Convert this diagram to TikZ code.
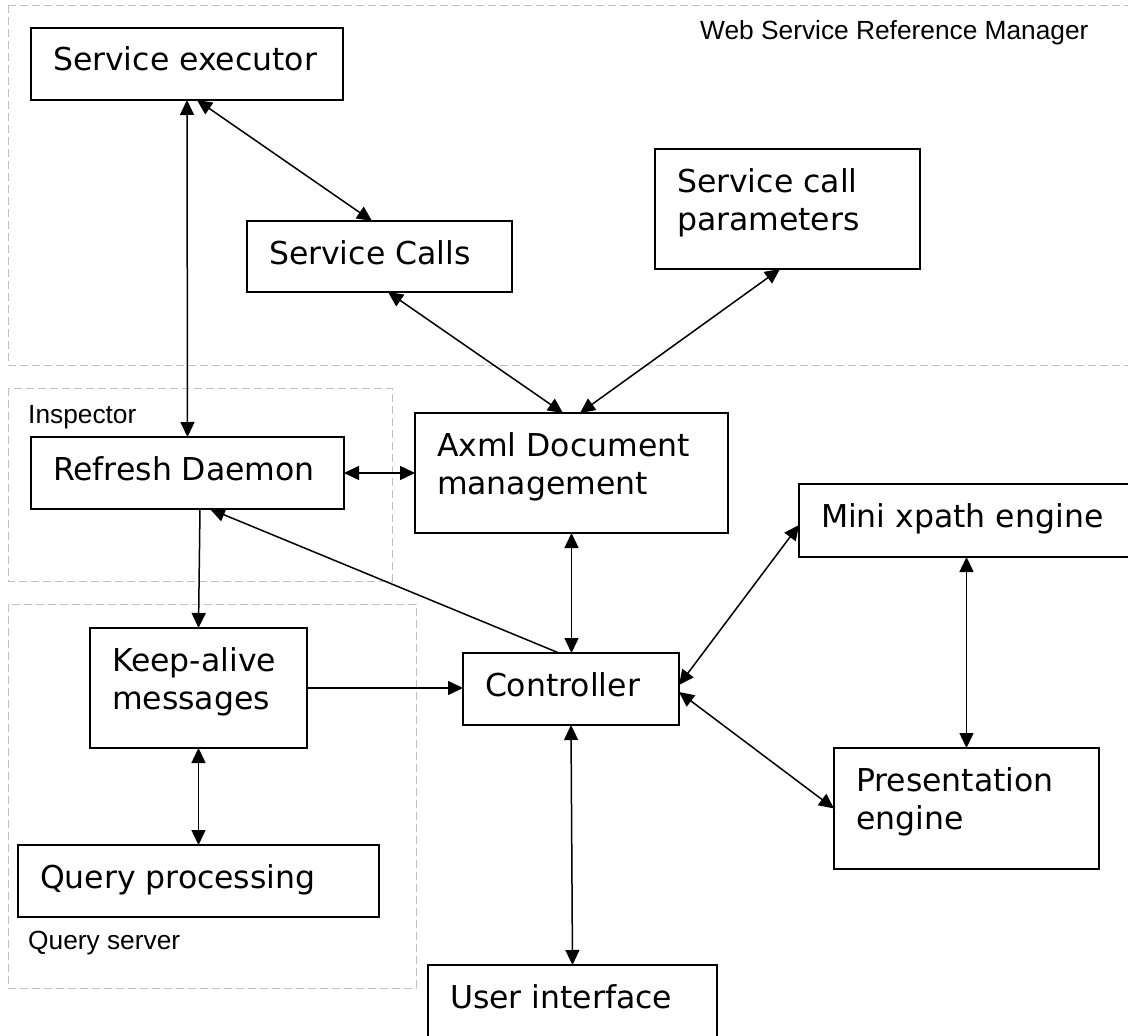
\documentclass[tikz,border=0pt]{standalone}
\usepackage{fontspec}
\setmainfont{DejaVu Sans}
\newfontfamily\lblfont{Liberation Sans}
\usetikzlibrary{arrows.meta}
\definecolor{grpgray}{RGB}{192,192,192}
\newcommand\boxtext[3]{\parbox[c][#2][t]{#1}{\fontsize{31.5pt}{38pt}\selectfont\raggedright\leftskip=22pt\rule{0pt}{43pt}#3}}
\tikzset{
  box/.style={draw, fill=white, line width=1.6pt, inner sep=0pt, outer sep=0pt, anchor=north west},
  grp/.style={draw=grpgray, line width=1pt, dash pattern=on 8pt off 4pt},
  lbl/.style={font=\lblfont\fontsize{26.3pt}{30pt}\selectfont, inner sep=0pt, anchor=base west},
  conn/.style={line width=1.5pt},
  sgl/.style={conn, -{Triangle[length=15pt,width=14pt]}},
  dbl/.style={conn, {Triangle[length=15pt,width=14pt]}-{Triangle[length=15pt,width=14pt]}}
}
\begin{document}
\begin{tikzpicture}[x=1pt,y=-1pt]
\useasboundingbox (0,0) rectangle (1128,1036);
% groups
\draw[grp] (8,5) rectangle (1140,365);
\draw[grp] (8,388) rectangle (392,581);
\draw[grp] (8,604) rectangle (416,988);
\node[lbl] (wsrmlbl) at (700,39) {Web Service Reference Manager};
\node[lbl] (insplbl) at (28,423) {Inspector};
\node[lbl] (qslbl) at (28,949) {Query server};
% boxes
\node[box] (exec) at (31,28) {\boxtext{312pt}{72pt}{Service executor}};
\node[box] (calls) at (247,221) {\boxtext{265pt}{71pt}{Service Calls}};
\node[box] (params) at (655,149) {\boxtext{265pt}{120pt}{Service call\\parameters}};
\node[box] (axml) at (415,413) {\boxtext{313pt}{120pt}{Axml Document\\management}};
\node[box] (refresh) at (31,437) {\boxtext{313pt}{72pt}{Refresh Daemon}};
\node[box] (mini) at (799,484) {\boxtext{345pt}{73pt}{Mini xpath engine}};
\node[box] (keep) at (90,628) {\boxtext{217pt}{120pt}{Keep-alive\\messages}};
\node[box] (ctrl) at (463,653) {\boxtext{216pt}{72pt}{Controller}};
\node[box] (pres) at (834,748) {\boxtext{265pt}{121pt}{Presentation\\engine}};
\node[box] (query) at (18,845) {\boxtext{361pt}{72pt}{Query processing}};
\node[box] (ui) at (428,965) {\boxtext{289pt}{95pt}{User interface}};
% connectors
\draw[dbl] (exec.south) -- (refresh.north);
\draw[dbl] ([xshift=10pt]exec.south) -- ([xshift=-7.5pt]calls.north);
\draw[dbl] ([xshift=8.5pt]calls.south) -- ([xshift=-8.5pt]axml.north);
\draw[dbl] ([xshift=-7.5pt]params.south) -- ([xshift=8.5pt]axml.north);
\draw[dbl] (refresh.east) -- (axml.west);
\draw[sgl] ([xshift=12.5pt]refresh.south) -- (keep.north);
\draw[sgl] ([xshift=-12pt]ctrl.north) -- ([xshift=22.5pt]refresh.south);
\draw[dbl] (axml.south) -- (axml.south |- ctrl.north);
\draw[sgl] (keep.east) -- (keep.east -| ctrl.west);
\draw[dbl] (keep.south) -- (keep.south |- query.north);
\draw[dbl] ([yshift=4pt]ctrl.east) -- ([yshift=-4.5pt]mini.west);
\draw[dbl] ([yshift=-3pt]ctrl.east) -- (pres.west);
\draw[dbl] (pres.north |- mini.south) -- (pres.north);
\draw[dbl] (ctrl.south) -- (ui.north);
\end{tikzpicture}
\end{document}
